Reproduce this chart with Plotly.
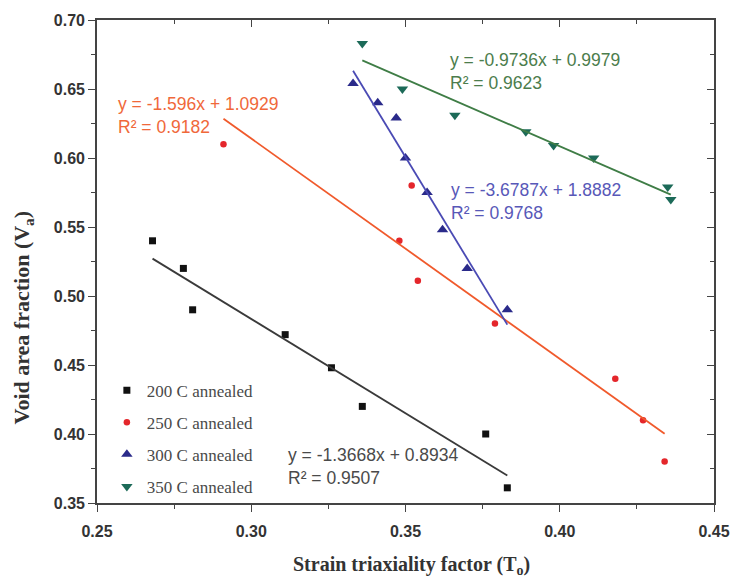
import plotly.graph_objects as go

# Measured points: strain triaxiality factor (x) vs void area fraction (y)
x_200 = [0.268, 0.278, 0.281, 0.311, 0.326, 0.336, 0.376, 0.383]
y_200 = [0.540, 0.520, 0.490, 0.472, 0.448, 0.420, 0.400, 0.361]

x_250 = [0.291, 0.352, 0.348, 0.354, 0.379, 0.418, 0.427, 0.434]
y_250 = [0.610, 0.580, 0.540, 0.511, 0.480, 0.440, 0.410, 0.380]

x_300 = [0.333, 0.341, 0.347, 0.350, 0.357, 0.362, 0.370, 0.383]
y_300 = [0.654, 0.640, 0.629, 0.600, 0.575, 0.548, 0.520, 0.490]

x_350 = [0.336, 0.349, 0.366, 0.389, 0.398, 0.411, 0.435, 0.436]
y_350 = [0.683, 0.650, 0.631, 0.619, 0.609, 0.600, 0.579, 0.570]

# Linear fits (slope, intercept, R^2)
fit_200 = (-1.3668, 0.8934, 0.9507)
fit_250 = (-1.596, 1.0929, 0.9182)
fit_300 = (-3.6787, 1.8882, 0.9768)
fit_350 = (-0.9736, 0.9979, 0.9623)

series = [
    dict(name="200 C annealed", x=x_200, y=y_200, fit=fit_200,
         symbol="square", size=7, mcolor="#111111", lcolor="#3a3a3a",
         tcolor="#4a4a4a", label_xy=(0.3112, 0.3767)),
    dict(name="250 C annealed", x=x_250, y=y_250, fit=fit_250,
         symbol="circle", size=6.5, mcolor="#e4262b", lcolor="#f05a2c",
         tcolor="#f0683a", label_xy=(0.2561, 0.6307)),
    dict(name="300 C annealed", x=x_300, y=y_300, fit=fit_300,
         symbol="triangle-up", size=10, mcolor="#2a2a8a", lcolor="#4a4ab4",
         tcolor="#5858b8", label_xy=(0.3641, 0.5687)),
    dict(name="350 C annealed", x=x_350, y=y_350, fit=fit_350,
         symbol="triangle-down", size=10, mcolor="#1c6a58", lcolor="#3f7d46",
         tcolor="#4c7d4c", label_xy=(0.3638, 0.6628)),
]

fig = go.Figure()

for s in series:
    fig.add_trace(go.Scatter(
        x=s["x"], y=s["y"], mode="markers", name=s["name"],
        legendgroup=s["name"],
        marker=dict(symbol=s["symbol"], size=s["size"], color=s["mcolor"]),
    ))

for s in series:
    m, b, r2 = s["fit"]
    x0, x1 = min(s["x"]), max(s["x"])
    fig.add_trace(go.Scatter(
        x=[x0, x1], y=[m * x0 + b, m * x1 + b], mode="lines",
        line=dict(color=s["lcolor"], width=1.8),
        showlegend=False, hoverinfo="skip",
    ))
    sign = "+" if b >= 0 else "-"
    fig.add_annotation(
        x=s["label_xy"][0], y=s["label_xy"][1], xref="x", yref="y",
        text=f"y = {m:g}x {sign} {abs(b):g}<br>R² = {r2:g}",
        showarrow=False, xanchor="left", yanchor="middle", align="left",
        font=dict(family="Liberation Sans, Arial", size=17.5, color=s["tcolor"]),
    )

# empty trace binding the mirrored top/right axes
fig.add_trace(go.Scatter(x=[None], y=[None], xaxis="x2", yaxis="y2",
                         showlegend=False, hoverinfo="skip"))

tick_font = dict(family="Liberation Sans, Arial", size=16, color="#333333")
axis_col = "#444444"
x_rng = [0.25, 0.45]
y_rng = [0.35, 0.70]

fig.update_layout(
    width=742, height=581,
    margin=dict(l=97, r=21, t=18, b=78),
    paper_bgcolor="white", plot_bgcolor="white",
    showlegend=True,
    legend=dict(
        x=0.016, y=0.27, xanchor="left", yanchor="top",
        traceorder="grouped", tracegroupgap=7,
        font=dict(family="Liberation Serif, Times New Roman", size=17, color="#4a4a4a"),
        bgcolor="rgba(0,0,0,0)", itemwidth=30,
    ),
    xaxis=dict(
        range=x_rng, dtick=0.05, tick0=0.25, tickformat=".2f",
        showgrid=False, zeroline=False, showline=True, linecolor=axis_col, linewidth=1.6,
        ticks="outside", ticklen=7, tickwidth=1.4, tickcolor=axis_col,
        minor=dict(ticks="outside", ticklen=4, dtick=0.025, tick0=0.25, tickcolor=axis_col),
        tickfont=tick_font, tickprefix="<b>", ticksuffix="</b>", ticklabelstandoff=6,
    ),
    yaxis=dict(
        range=y_rng, dtick=0.05, tick0=0.35, tickformat=".2f",
        showgrid=False, zeroline=False, showline=True, linecolor=axis_col, linewidth=1.6,
        ticks="outside", ticklen=7, tickwidth=1.4, tickcolor=axis_col,
        minor=dict(ticks="outside", ticklen=4, dtick=0.025, tick0=0.35, tickcolor=axis_col),
        tickfont=tick_font, tickprefix="<b>", ticksuffix="</b>",
    ),
    xaxis2=dict(
        range=x_rng, overlaying="x", side="top", anchor="y2",
        showgrid=False, zeroline=False, showline=True, linecolor=axis_col, linewidth=1.6,
        ticks="inside", ticklen=7, tickwidth=1.4, tickcolor=axis_col, dtick=0.05, tick0=0.25,
        minor=dict(ticks="inside", ticklen=4, dtick=0.025, tick0=0.25, tickcolor=axis_col),
        showticklabels=False,
    ),
    yaxis2=dict(
        range=y_rng, overlaying="y", side="right", anchor="x2",
        showgrid=False, zeroline=False, showline=True, linecolor=axis_col, linewidth=1.6,
        ticks="inside", ticklen=7, tickwidth=1.4, tickcolor=axis_col, dtick=0.05, tick0=0.35,
        minor=dict(ticks="inside", ticklen=4, dtick=0.025, tick0=0.35, tickcolor=axis_col),
        showticklabels=False,
    ),
)

fig.add_annotation(
    x=0.51, y=-0.13, xref="paper", yref="paper", showarrow=False,
    text="<b>Strain triaxiality factor (T<sub>o</sub>)</b>",
    xanchor="center", yanchor="middle",
    font=dict(family="Liberation Serif, Times New Roman", size=20, color="#333333"),
)
fig.add_annotation(
    x=-0.12, y=0.384, xref="paper", yref="paper", showarrow=False,
    text="<b>Void area fraction (V<sub>a</sub>)</b>", textangle=-90,
    xanchor="center", yanchor="middle",
    font=dict(family="Liberation Serif, Times New Roman", size=22, color="#333333"),
)

fig.write_html("out.html")
